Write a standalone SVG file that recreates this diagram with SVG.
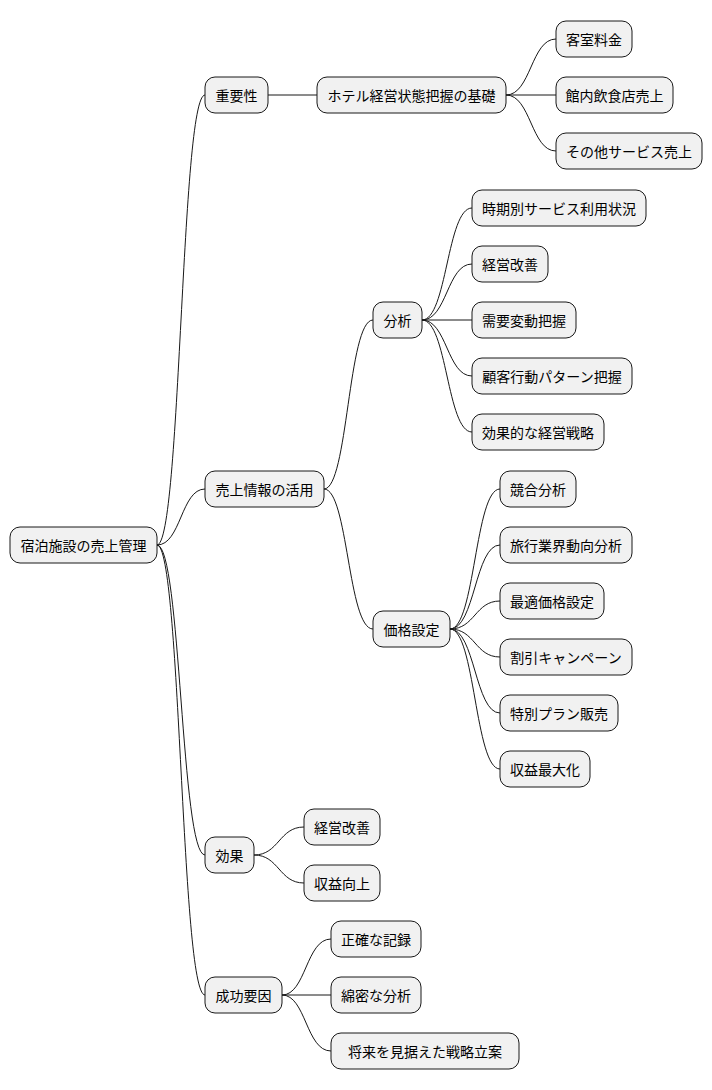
<svg xmlns="http://www.w3.org/2000/svg" width="712" height="1090" viewBox="0 0 712 1090">
<style>
rect{fill:#F1F1F1;stroke:#181818;stroke-width:1}
text{font-family:"Noto Sans CJK JP","Noto Sans",sans-serif;font-size:14px;fill:#000;text-anchor:middle;dominant-baseline:central}
#connectors path{fill:none;stroke:#181818;stroke-width:1}
</style>
<rect x="0" y="0" width="712" height="1090" style="fill:#fff;stroke:none"/>
<g id="connectors">
<path d="M157,545 C181,545 181,95 205,95"/>
<path d="M157,545 C181,545 181,489 205,489"/>
<path d="M157,545 C181,545 181,855 205,855"/>
<path d="M157,545 C181,545 181,995 205,995"/>
<path d="M268,95 L317,95"/>
<path d="M506,95 C531,95 531,39 556,39"/>
<path d="M506,95 L556,95"/>
<path d="M506,95 C531,95 531,151 556,151"/>
<path d="M324,489 C348,489 348,320 373,320"/>
<path d="M324,489 C348,489 348,629 373,629"/>
<path d="M422,320 C447,320 447,208 472,208"/>
<path d="M422,320 C447,320 447,264 472,264"/>
<path d="M422,320 L472,320"/>
<path d="M422,320 C447,320 447,376 472,376"/>
<path d="M422,320 C447,320 447,432 472,432"/>
<path d="M450,629 C475,629 475,489 500,489"/>
<path d="M450,629 C475,629 475,545 500,545"/>
<path d="M450,629 C475,629 475,601 500,601"/>
<path d="M450,629 C475,629 475,657 500,657"/>
<path d="M450,629 C475,629 475,713 500,713"/>
<path d="M450,629 C475,629 475,769 500,769"/>
<path d="M254,855 C279,855 279,827 304,827"/>
<path d="M254,855 C279,855 279,883 304,883"/>
<path d="M282,995 C306,995 306,939 331,939"/>
<path d="M282,995 L331,995"/>
<path d="M282,995 C306,995 306,1051 331,1051"/>
</g>
<g id="n0"><rect x="10" y="527" width="147" height="36" rx="10"/><text x="83.5" y="545">宿泊施設の売上管理</text></g>
<g id="n1"><rect x="205" y="77" width="63" height="36" rx="10"/><text x="236.5" y="95">重要性</text></g>
<g id="n2"><rect x="317" y="77" width="189" height="36" rx="10"/><text x="411.5" y="95">ホテル経営状態把握の基礎</text></g>
<g id="n3"><rect x="556" y="21" width="76" height="36" rx="10"/><text x="594" y="39">客室料金</text></g>
<g id="n4"><rect x="556" y="77" width="117" height="36" rx="10"/><text x="614.5" y="95">館内飲食店売上</text></g>
<g id="n5"><rect x="556" y="133" width="146" height="36" rx="10"/><text x="629" y="151">その他サービス売上</text></g>
<g id="n6"><rect x="205" y="471" width="119" height="36" rx="10"/><text x="264.5" y="489">売上情報の活用</text></g>
<g id="n7"><rect x="373" y="302" width="49" height="36" rx="10"/><text x="397.5" y="320">分析</text></g>
<g id="n8"><rect x="472" y="190" width="174" height="36" rx="10"/><text x="559" y="208">時期別サービス利用状況</text></g>
<g id="n9"><rect x="472" y="246" width="76" height="36" rx="10"/><text x="510" y="264">経営改善</text></g>
<g id="n10"><rect x="472" y="302" width="104" height="36" rx="10"/><text x="524" y="320">需要変動把握</text></g>
<g id="n11"><rect x="472" y="358" width="160" height="36" rx="10"/><text x="552" y="376">顧客行動パターン把握</text></g>
<g id="n12"><rect x="472" y="414" width="132" height="36" rx="10"/><text x="538" y="432">効果的な経営戦略</text></g>
<g id="n13"><rect x="373" y="611" width="77" height="36" rx="10"/><text x="411.5" y="629">価格設定</text></g>
<g id="n14"><rect x="500" y="471" width="76" height="36" rx="10"/><text x="538" y="489">競合分析</text></g>
<g id="n15"><rect x="500" y="527" width="132" height="36" rx="10"/><text x="566" y="545">旅行業界動向分析</text></g>
<g id="n16"><rect x="500" y="583" width="104" height="36" rx="10"/><text x="552" y="601">最適価格設定</text></g>
<g id="n17"><rect x="500" y="639" width="132" height="36" rx="10"/><text x="566" y="657">割引キャンペーン</text></g>
<g id="n18"><rect x="500" y="695" width="118" height="36" rx="10"/><text x="559" y="713">特別プラン販売</text></g>
<g id="n19"><rect x="500" y="751" width="90" height="36" rx="10"/><text x="545" y="769">収益最大化</text></g>
<g id="n20"><rect x="205" y="837" width="49" height="36" rx="10"/><text x="229.5" y="855">効果</text></g>
<g id="n21"><rect x="304" y="809" width="76" height="36" rx="10"/><text x="342" y="827">経営改善</text></g>
<g id="n22"><rect x="304" y="865" width="76" height="36" rx="10"/><text x="342" y="883">収益向上</text></g>
<g id="n23"><rect x="205" y="977" width="77" height="36" rx="10"/><text x="243.5" y="995">成功要因</text></g>
<g id="n24"><rect x="331" y="921" width="90" height="36" rx="10"/><text x="376" y="939">正確な記録</text></g>
<g id="n25"><rect x="331" y="977" width="90" height="36" rx="10"/><text x="376" y="995">綿密な分析</text></g>
<g id="n26"><rect x="331" y="1033" width="188" height="36" rx="10"/><text x="425" y="1051">将来を見据えた戦略立案</text></g>
</svg>
